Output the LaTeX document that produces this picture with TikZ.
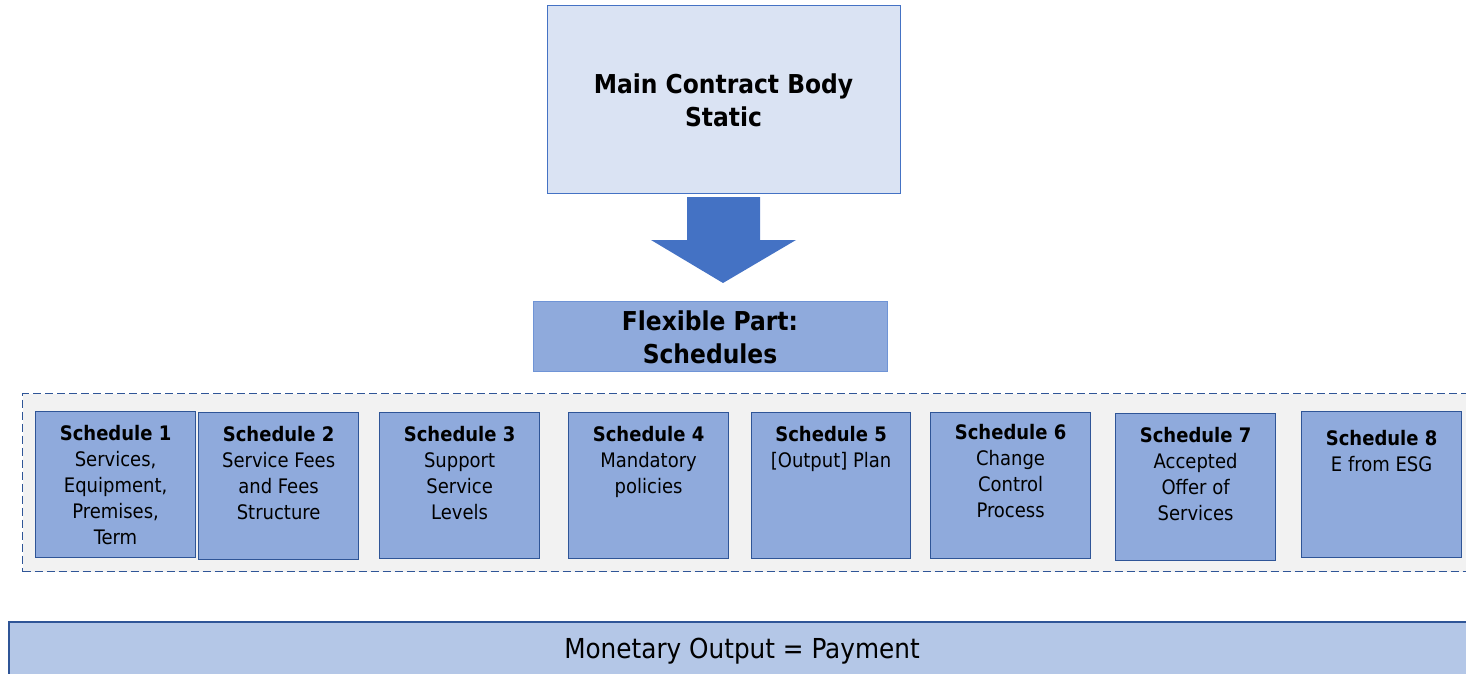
\documentclass[tikz,border=0pt]{standalone}
\usepackage{fontspec}
\setmainfont{DejaVu Sans Condensed}
\usetikzlibrary{calc}
\definecolor{lightfill}{HTML}{DAE3F3}
\definecolor{midfill}{HTML}{8FAADC}
\definecolor{palefill}{HTML}{B4C7E7}
\definecolor{accent}{HTML}{4472C4}
\definecolor{darkedge}{HTML}{2F5597}
\definecolor{flexedge}{HTML}{6F94D6}
\definecolor{panel}{HTML}{F2F2F2}
\begin{document}
\begin{tikzpicture}[x=1pt,y=-1pt,
  schedbox/.style={draw=darkedge, line width=1.2pt, fill=midfill, anchor=north west, inner sep=0pt},
  schedtext/.style={anchor=north, align=center, inner sep=0pt, font=\fontsize{20}{26}\selectfont},
  boldtitle/.style={align=center, inner sep=0pt, font=\fontsize{26}{33}\selectfont\bfseries}]
\useasboundingbox (0,0) rectangle (1466,674);
\begin{scope}
\clip (0,0) rectangle (1466,674);
% static part of the contract
\node[draw=accent, line width=0.9pt, fill=lightfill, anchor=north west,
      minimum width=353pt, minimum height=188pt, inner sep=0pt] (main) at (547,5) {};
\node[boldtitle] (maintext) at (723.5,100) {Main Contract Body\\Static};
% block arrow
\fill[accent] (687,197) -- (760,197) -- (760,240) -- (796,240) -- (723,283)
  -- (651,240) -- (687,240) -- cycle;
% flexible part header
\node[draw=flexedge, line width=1pt, fill=midfill, anchor=north west,
      minimum width=354pt, minimum height=70pt, inner sep=0pt] (flex) at (533,301) {};
\node[boldtitle] (flextext) at (710,337) {Flexible Part:\\Schedules};
% panel of schedules
\node[draw=darkedge, dash pattern=on 8pt off 4pt, line width=1.4pt, fill=panel,
      anchor=north west, minimum width=1480pt, minimum height=178pt, inner sep=0pt] (panel) at (22,393) {};
\node[schedbox, minimum width=160pt, minimum height=146pt] (s1) at (35,411) {};
\node[schedbox, minimum width=160pt, minimum height=147pt] (s2) at (198,412) {};
\node[schedbox, minimum width=160pt, minimum height=146pt] (s3) at (379,412) {};
\node[schedbox, minimum width=160pt, minimum height=146pt] (s4) at (568,412) {};
\node[schedbox, minimum width=159pt, minimum height=146pt] (s5) at (751,412) {};
\node[schedbox, minimum width=160pt, minimum height=146pt] (s6) at (930,412) {};
\node[schedbox, minimum width=160pt, minimum height=147pt] (s7) at (1115,413) {};
\node[schedbox, minimum width=160pt, minimum height=146pt] (s8) at (1301,411) {};
\node[schedtext] (t1) at ($(s1.north)+(0,14)$) {\textbf{Schedule 1}\\Services,\\Equipment,\\Premises,\\Term};
\node[schedtext] (t2) at ($(s2.north)+(0,14)$) {\textbf{Schedule 2}\\Service Fees\\and Fees\\Structure};
\node[schedtext] (t3) at ($(s3.north)+(0,14)$) {\textbf{Schedule 3}\\Support\\Service\\Levels};
\node[schedtext] (t4) at ($(s4.north)+(0,14)$) {\textbf{Schedule 4}\\Mandatory\\policies};
\node[schedtext] (t5) at ($(s5.north)+(0,14)$) {\textbf{Schedule 5}\\{[Output]} Plan};
\node[schedtext] (t6) at ($(s6.north)+(0,12)$) {\textbf{Schedule 6}\\Change\\Control\\Process};
\node[schedtext] (t7) at ($(s7.north)+(0,14)$) {\textbf{Schedule 7}\\Accepted\\Offer of\\Services};
\node[schedtext] (t8) at ($(s8.north)+(0,19)$) {\textbf{Schedule 8}\\E from ESG};
% outcome bar
\node[draw=darkedge, line width=1.5pt, fill=palefill, anchor=north west,
      minimum width=1480pt, minimum height=70pt, inner sep=0pt] (pay) at (8,621) {};
\node[inner sep=0pt, font=\fontsize{27.5}{33}\selectfont] (paytext) at (742,651) {Monetary Output = Payment};
\end{scope}
\end{tikzpicture}
\end{document}
